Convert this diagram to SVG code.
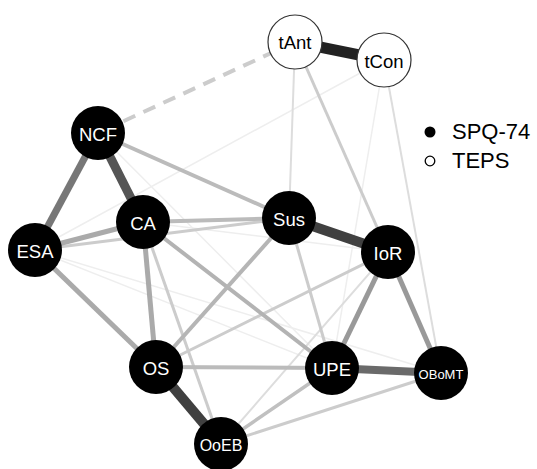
<svg xmlns="http://www.w3.org/2000/svg" width="537" height="469" viewBox="0 0 537 469">
<style>
.e{fill:none;stroke-linecap:butt}
.spq circle{fill:#000}
.teps circle{fill:#fff;stroke:#333;stroke-width:1.2}
text{font-family:"Liberation Sans",Arial,sans-serif;text-anchor:middle;dominant-baseline:central}
.spq text{fill:#fff;font-size:18.5px}
.teps text{fill:#000;font-size:18.5px}
.leg{font-size:22px;text-anchor:start;dominant-baseline:auto;fill:#000}
</style>
<rect width="537" height="469" fill="#fff"/>
<g id="connectors" class="e">
<line x1="384" y1="60" x2="35" y2="250" stroke="#eee" stroke-width="1.5"/>
<line x1="384" y1="60" x2="332" y2="368" stroke="#eee" stroke-width="1.5"/>
<line x1="35" y1="250" x2="332" y2="368" stroke="#eee" stroke-width="1.5"/>
<line x1="35" y1="250" x2="441" y2="373" stroke="#eee" stroke-width="1.5"/>
<line x1="143" y1="222" x2="388" y2="252" stroke="#eee" stroke-width="1.5"/>
<line x1="98" y1="133" x2="332" y2="368" stroke="#eee" stroke-width="1.5"/>
<line x1="295" y1="42" x2="289" y2="218" stroke="#ddd" stroke-width="2"/>
<line x1="384" y1="60" x2="441" y2="373" stroke="#ddd" stroke-width="2"/>
<line x1="221" y1="444" x2="388" y2="252" stroke="#ddd" stroke-width="2"/>
<line x1="221" y1="444" x2="441" y2="373" stroke="#ccc" stroke-width="3"/>
<line x1="289" y1="218" x2="332" y2="368" stroke="#ccc" stroke-width="3"/>
<line x1="388" y1="252" x2="156" y2="367" stroke="#ccc" stroke-width="3"/>
<line x1="143" y1="222" x2="221" y2="444" stroke="#ccc" stroke-width="3"/>
<line x1="295" y1="42" x2="388" y2="252" stroke="#ccc" stroke-width="3"/>
<line x1="35" y1="250" x2="289" y2="218" stroke="#ccc" stroke-width="3"/>
<line x1="295" y1="42" x2="98" y2="133" stroke="#ccc" stroke-width="4" stroke-dasharray="13 9"/>
<line x1="332" y1="368" x2="221" y2="444" stroke="#c0c0c0" stroke-width="3.5"/>
<line x1="98" y1="133" x2="289" y2="218" stroke="#bbb" stroke-width="4"/>
<line x1="143" y1="222" x2="289" y2="218" stroke="#bbb" stroke-width="4"/>
<line x1="143" y1="222" x2="332" y2="368" stroke="#b3b3b3" stroke-width="4"/>
<line x1="289" y1="218" x2="156" y2="367" stroke="#b5b5b5" stroke-width="4"/>
<line x1="156" y1="367" x2="332" y2="368" stroke="#bbb" stroke-width="4"/>
<line x1="35" y1="250" x2="143" y2="222" stroke="#aaa" stroke-width="5"/>
<line x1="35" y1="250" x2="156" y2="367" stroke="#aaa" stroke-width="5"/>
<line x1="143" y1="222" x2="156" y2="367" stroke="#aaa" stroke-width="5"/>
<line x1="388" y1="252" x2="332" y2="368" stroke="#999" stroke-width="5"/>
<line x1="388" y1="252" x2="441" y2="373" stroke="#999" stroke-width="5"/>
<line x1="98" y1="133" x2="35" y2="250" stroke="#777" stroke-width="7"/>
<line x1="332" y1="368" x2="441" y2="373" stroke="#6a6a6a" stroke-width="8"/>
<line x1="98" y1="133" x2="143" y2="222" stroke="#555" stroke-width="9"/>
<line x1="289" y1="218" x2="388" y2="252" stroke="#404040" stroke-width="10"/>
<line x1="156" y1="367" x2="221" y2="444" stroke="#404040" stroke-width="10"/>
<line x1="295" y1="42" x2="384" y2="60" stroke="#222" stroke-width="11"/>
</g>
<g id="tAnt" class="teps"><circle cx="295" cy="42" r="27"/><text x="295" y="42">tAnt</text></g>
<g id="tCon" class="teps"><circle cx="384" cy="60" r="27"/><text x="384" y="61">tCon</text></g>
<g id="NCF" class="spq"><circle cx="98" cy="133" r="27"/><text x="98" y="134">NCF</text></g>
<g id="CA" class="spq"><circle cx="143" cy="222" r="27"/><text x="143" y="223">CA</text></g>
<g id="ESA" class="spq"><circle cx="35" cy="250" r="27"/><text x="35" y="251">ESA</text></g>
<g id="Sus" class="spq"><circle cx="289" cy="218" r="27"/><text x="289" y="219">Sus</text></g>
<g id="IoR" class="spq"><circle cx="388" cy="252" r="27"/><text x="388" y="253">IoR</text></g>
<g id="OS" class="spq"><circle cx="156" cy="367" r="27"/><text x="156" y="368">OS</text></g>
<g id="UPE" class="spq"><circle cx="332" cy="368" r="27"/><text x="332" y="369">UPE</text></g>
<g id="OBoMT" class="spq"><circle cx="441" cy="373" r="27"/><text x="441" y="374" style="font-size:13px">OBoMT</text></g>
<g id="OoEB" class="spq"><circle cx="221" cy="444" r="27"/><text x="221" y="445" style="font-size:16px">OoEB</text></g>
<g id="legend">
<circle cx="430" cy="132" r="5.5" fill="#000"/>
<text class="leg" x="452" y="139">SPQ-74</text>
<circle cx="430" cy="161" r="4.8" fill="#fff" stroke="#000" stroke-width="1.3"/>
<text class="leg" x="452" y="168">TEPS</text>
</g>
</svg>
